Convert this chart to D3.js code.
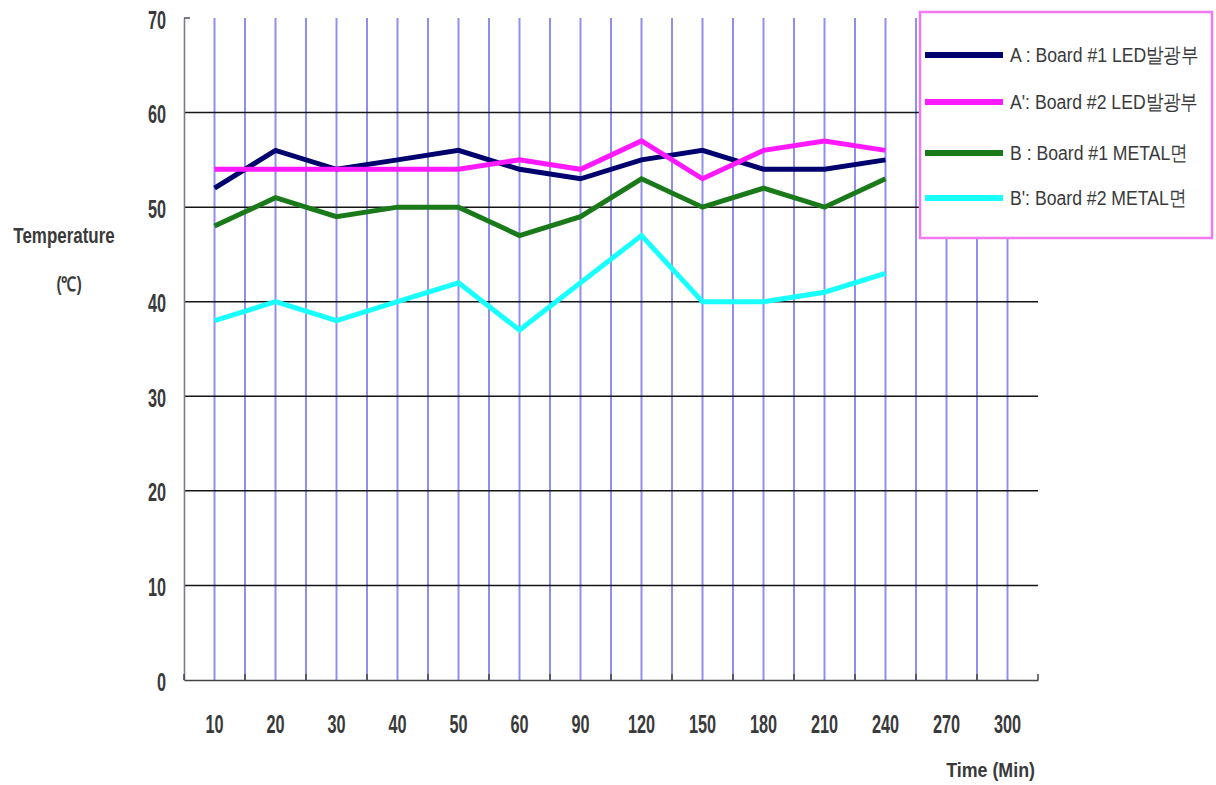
<!DOCTYPE html>
<html>
<head>
<meta charset="utf-8">
<script src="https://cdn.jsdelivr.net/npm/d3@7"></script>
<style>
  body { margin: 0; background: #fff; }
  text { font-family: "Liberation Sans", Arial, sans-serif; fill: #3a3a3a; }
</style>
</head>
<body>
<div id="chart"></div>
<script>
// data
const times = ["10", "20", "30", "40", "50", "60", "90", "120", "150", "180", "210", "240", "270", "300"];
const boardA1 = [52, 56, 54, 55, 56, 54, 53, 55, 56, 54, 54, 55];
const boardA2 = [54, 54, 54, 54, 54, 55, 54, 57, 53, 56, 57, 56];
const boardB1 = [48, 51, 49, 50, 50, 47, 49, 53, 50, 52, 50, 53];
const boardB2 = [38, 40, 38, 40, 42, 37, 42, 47, 40, 40, 41, 43];
const seriesNames = ["A : Board #1 LED발광부", "A': Board #2 LED발광부", "B : Board #1 METAL면", "B': Board #2 METAL면"];
const seriesColors = ["#00006e", "#ff19ff", "#1a7a1a", "#19ffff"];
const yTicks = [0, 10, 20, 30, 40, 50, 60, 70];

const series = [boardA1, boardA2, boardB1, boardB2];

const margin = { top: 18, right: 178, bottom: 105, left: 184 },
    width = 1216 - margin.left - margin.right,
    height = 785 - margin.top - margin.bottom;

const svg = d3.select("#chart")
    .append("svg")
    .attr("width", 1216)
    .attr("height", 785)
    .append("g")
    .attr("transform", `translate(${margin.left},${margin.top})`);

const x = d3.scaleBand()
    .domain(times)
    .range([0, width]);

const y = d3.scaleLinear()
    .domain([0, 70])
    .range([height, 0]);

// vertical grid: band centres and inner band edges
const vLines = [];
times.forEach((t, i) => {
    vLines.push(x(t) + x.bandwidth() / 2);
    if (i < times.length - 1) vLines.push(x(t) + x.bandwidth());
});
svg.selectAll(".vgrid")
    .data(vLines)
  .join("line")
    .attr("class", "vgrid")
    .attr("x1", d => d).attr("x2", d => d)
    .attr("y1", 0).attr("y2", height)
    .attr("stroke", "#8f8ff2")
    .attr("stroke-width", 2);

// horizontal grid
svg.selectAll(".hgrid")
    .data(yTicks.filter(d => d > 0 && d < 70))
  .join("line")
    .attr("class", "hgrid")
    .attr("x1", 0).attr("x2", width)
    .attr("y1", d => y(d)).attr("y2", d => y(d))
    .attr("stroke", "#151515")
    .attr("stroke-width", 1.5);

// axes
const yAxis = svg.append("g")
    .call(d3.axisLeft(y).tickValues(yTicks).tickSize(0).tickPadding(0));
yAxis.select(".domain").attr("stroke", "#7a7a90").attr("stroke-width", 1.6);
yAxis.selectAll("text")
    .attr("x", 0).attr("dy", "0.36em")
    .attr("transform", "translate(-18,1) scale(0.65,1)")
    .style("font-size", "25px").style("font-weight", "bold").attr("fill", "#3a3a3a");
svg.append("line")
    .attr("x1", 0).attr("x2", 6)
    .attr("y1", y(70)).attr("y2", y(70))
    .attr("stroke", "#555").attr("stroke-width", 1.5);

const xAxis = svg.append("g")
    .attr("transform", `translate(0,${height})`)
    .call(d3.axisBottom(x).tickSize(0).tickPadding(0));
xAxis.select(".domain").attr("stroke", "#444").attr("stroke-width", 1.5);
xAxis.selectAll("text")
    .attr("y", 0).attr("dy", 0)
    .attr("transform", "translate(0,53) scale(0.65,1)")
    .style("font-size", "25px").style("font-weight", "bold").attr("fill", "#3a3a3a");
// small ticks at band edges
svg.selectAll(".xedge")
    .data(times.map(t => x(t)).concat([width]))
  .join("line")
    .attr("class", "xedge")
    .attr("x1", d => d).attr("x2", d => d)
    .attr("y1", height - 6).attr("y2", height)
    .attr("stroke", "#444").attr("stroke-width", 1.5);

// lines
const line = d3.line()
    .x((d, i) => x(times[i]) + x.bandwidth() / 2)
    .y(d => y(d));

svg.selectAll(".series")
    .data(series)
  .join("path")
    .attr("class", "series")
    .attr("fill", "none")
    .attr("stroke", (d, i) => seriesColors[i])
    .attr("stroke-width", 5)
    .attr("stroke-linejoin", "miter")
    .attr("d", line);

// axis titles
svg.append("text")
    .attr("transform", `translate(${64 - margin.left},225) scale(0.77,1)`)
    .attr("text-anchor", "middle")
    .style("font-size", "22px").style("font-weight", "bold")
    .text("Temperature");
svg.append("text")
    .attr("transform", `translate(${69 - margin.left},273) scale(0.75,1)`)
    .attr("text-anchor", "middle")
    .style("font-size", "20px").style("font-weight", "bold")
    .text("(℃)");
svg.append("text")
    .attr("transform", `translate(${1035 - margin.left},${height + 97}) scale(0.85,1)`)
    .attr("text-anchor", "end")
    .style("font-size", "21px").style("font-weight", "bold")
    .text("Time (Min)");

// legend
const legend = svg.append("g")
    .attr("transform", `translate(${920 - margin.left},${12 - margin.top})`);
legend.append("rect")
    .attr("width", 292).attr("height", 226)
    .attr("fill", "#fff")
    .attr("stroke", "#f07af0")
    .attr("stroke-width", 2.5);
const legY = [43, 90, 141, 186];
seriesNames.forEach((name, i) => {
    legend.append("line")
        .attr("x1", 5).attr("x2", 83)
        .attr("y1", legY[i]).attr("y2", legY[i])
        .attr("stroke", seriesColors[i])
        .attr("stroke-width", 6);
    legend.append("text")
        .attr("transform", `translate(90,${legY[i] + 7}) scale(0.84,1)`)
        .style("font-size", "21px")
        .attr("fill", "#444")
        .text(name);
});
</script>
</body>
</html>
